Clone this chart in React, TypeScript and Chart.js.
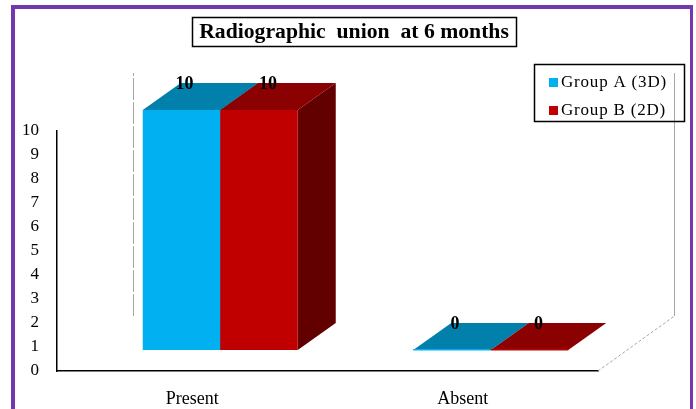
import { useEffect, useRef } from 'react';
import { Chart, registerables } from 'chart.js';

Chart.register(...registerables);

const TITLE = 'Radiographic  union  at 6 months';
const categories = ['Present', 'Absent'];
const seriesNames = ['Group A (3D)', 'Group B (2D)'];
const groupA = [10, 0];
const groupB = [10, 0];
const frontColors = ['#00B0F0', '#C00000'];
const topColors = ['#0080AA', '#8B0000'];
const sideColors = ['#006E96', '#620000'];

const W = 696;
const H = 409;
const SERIF = '"Liberation Serif", "Times New Roman", serif';

// 3D geometry (pixels)
const FRONT_X = 28;
const FRONT_Y = -21;
const BAR_DX = 38;
const BAR_DY = -27;
const FLOOR_DX = 76;
const FLOOR_DY = -55;
const LABEL_SHIFT = [3, 9];

const poly = (ctx: CanvasRenderingContext2D, pts: number[][], fill: string) => {
  ctx.beginPath();
  ctx.moveTo(pts[0][0], pts[0][1]);
  for (let k = 1; k < pts.length; k++) ctx.lineTo(pts[k][0], pts[k][1]);
  ctx.closePath();
  ctx.fillStyle = fill;
  ctx.fill();
};

const bars3d = {
  id: 'bars3d',
  beforeDatasetsDraw(chart: any) {
    const { ctx, chartArea: a } = chart;
    ctx.save();
    ctx.strokeStyle = '#A6A6A6';
    ctx.lineWidth = 1;
    const bx = Math.round(a.left + FLOOR_DX) + 0.5;
    const rx = Math.round(a.right + FLOOR_DX) + 0.5;
    const fy = a.bottom + FLOOR_DY;
    const ty = a.top + FLOOR_DY - 3;
    ctx.setLineDash([22, 2]);
    ctx.beginPath();
    ctx.moveTo(bx, fy);
    ctx.lineTo(bx, ty);
    ctx.stroke();
    ctx.setLineDash([3, 2]);
    ctx.beginPath();
    ctx.moveTo(a.right, a.bottom);
    ctx.lineTo(rx, fy);
    ctx.stroke();
    ctx.setLineDash([]);
    ctx.beginPath();
    ctx.moveTo(rx, fy);
    ctx.lineTo(rx, ty);
    ctx.stroke();

    const nData = chart.data.labels.length;
    const nSets = chart.data.datasets.length;
    const labels: { x: number; y: number; text: string }[] = [];
    for (let j = 0; j < nData; j++) {
      for (let i = 0; i < nSets; i++) {
        const el = chart.getDatasetMeta(i).data[j];
        const { x, y, base, width } = el.getProps(['x', 'y', 'base', 'width'], true);
        const l = x - width / 2 + FRONT_X;
        const r = l + width;
        const t = y + FRONT_Y;
        const b = base + FRONT_Y;
        poly(ctx, [[r, t], [r + BAR_DX, t + BAR_DY], [r + BAR_DX, b + BAR_DY], [r, b]], sideColors[i]);
        poly(ctx, [[l, t], [r, t], [r + BAR_DX, t + BAR_DY], [l + BAR_DX, t + BAR_DY]], topColors[i]);
        ctx.fillStyle = frontColors[i];
        if (b - t > 0.5) ctx.fillRect(l, t, width, b - t);
        else ctx.fillRect(l, t - 1, width, 1.5);
        labels.push({ x: x + FRONT_X + LABEL_SHIFT[i], y: t + BAR_DY + 1, text: String(chart.data.datasets[i].data[j]) });
      }
    }
    ctx.fillStyle = '#000';
    ctx.font = `bold 18px ${SERIF}`;
    ctx.textAlign = 'center';
    ctx.textBaseline = 'middle';
    labels.forEach((lb) => ctx.fillText(lb.text, lb.x, lb.y));
    ctx.restore();
    return false;
  },
  afterDraw(chart: any) {
    const { ctx } = chart;
    ctx.save();
    ctx.fillStyle = '#7438AE';
    ctx.fillRect(11, 5, 4, H);
    ctx.fillRect(11, 5, 682, 4);
    ctx.fillRect(690, 5, 3, H);
    ctx.strokeStyle = '#000';
    ctx.lineWidth = 1.5;
    ctx.strokeRect(192.5, 17.5, 324, 29);
    ctx.fillStyle = '#000';
    ctx.font = `bold 21.7px ${SERIF}`;
    ctx.textAlign = 'center';
    ctx.textBaseline = 'middle';
    ctx.fillText(TITLE, 354, 32);
    ctx.strokeRect(534.5, 64.5, 150, 57);
    ctx.font = `17px ${SERIF}`;
    ctx.textAlign = 'left';
    try { (ctx as any).letterSpacing = '0.8px'; } catch (e) { /* ignore */ }
    seriesNames.forEach((name, i) => {
      const cy = 82 + i * 28;
      ctx.fillStyle = frontColors[i];
      ctx.fillRect(549, cy - 4, 9, 9);
      ctx.fillStyle = '#000';
      ctx.fillText(name, 561, cy + 1);
    });
    ctx.restore();
  },
};

export default function App() {
  const ref = useRef<HTMLCanvasElement>(null);
  useEffect(() => {
    if (!ref.current) return;
    const chart = new Chart(ref.current, {
      type: 'bar',
      data: {
        labels: categories,
        datasets: [
          { label: seriesNames[0], data: groupA, backgroundColor: frontColors[0] },
          { label: seriesNames[1], data: groupB, backgroundColor: frontColors[1] },
        ],
      },
      options: {
        responsive: false,
        animation: false,
        devicePixelRatio: 1,
        layout: { padding: { left: 0, top: 131, right: W - 598, bottom: 0 } },
        datasets: { bar: { categoryPercentage: 0.573, barPercentage: 1 } },
        plugins: { legend: { display: false }, title: { display: false }, tooltip: { enabled: false } },
        scales: {
          x: {
            grid: { display: false, drawTicks: false },
            border: { display: true, color: '#000', width: 1.5 },
            ticks: { color: '#000', padding: 17, font: { family: SERIF, size: 18 } },
            afterFit: (s: any) => { s.height = H - 371; },
          },
          y: {
            min: 0,
            max: 10,
            grid: { display: false, drawTicks: false },
            border: { display: true, color: '#000', width: 1.5 },
            ticks: { stepSize: 1, color: '#000', padding: 18, font: { family: SERIF, size: 17 } },
            afterFit: (s: any) => { s.width = 57; },
          },
        },
      },
      plugins: [bars3d],
    });
    return () => chart.destroy();
  }, []);
  return (
    <div style={{ position: 'fixed', left: 0, top: 0, width: W, height: H, background: '#fff' }}>
      <canvas ref={ref} width={W} height={H} style={{ display: 'block', width: W, height: H }} />
    </div>
  );
}
